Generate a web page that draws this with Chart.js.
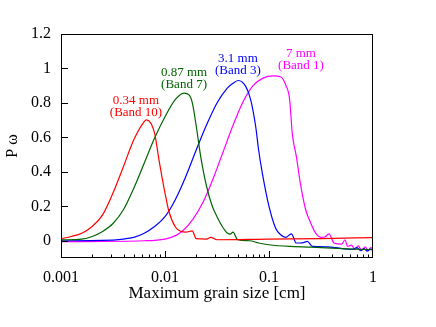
<!DOCTYPE html>
<html>
<head>
<meta charset="utf-8">
<script src="https://cdn.jsdelivr.net/npm/chart.js@4.4.1/dist/chart.umd.min.js"></script>
<style>
  html, body { margin: 0; padding: 0; background: #fff; }
  canvas { display: block; }
</style>
</head>
<body>
<canvas id="chart" width="436" height="327"></canvas>
<script>
// grain size [cm] and P omega
const redX = [0.001, 0.001259, 0.001585, 0.001995, 0.002512, 0.003162, 0.003981, 0.005012, 0.00631, 0.006607, 0.007943, 0.00875, 0.01, 0.01091, 0.01259, 0.01413, 0.01585, 0.01832, 0.01995, 0.02512, 0.02748, 0.03162, 0.1, 0.3162, 1];
const redY = [0.012, 0.025, 0.044, 0.083, 0.15, 0.277, 0.43, 0.586, 0.692, 0.702, 0.625, 0.47, 0.277, 0.17, 0.08, 0.055, 0.05, 0.058, 0.012, 0.01, 0.02, 0.006, 0.01, 0.013, 0.018];

const greenX = [0.001, 0.001585, 0.001995, 0.002512, 0.003162, 0.003981, 0.005012, 0.00631, 0.007943, 0.01, 0.01259, 0.01524, 0.01702, 0.01832, 0.02, 0.02203, 0.02512, 0.02851, 0.03162, 0.03556, 0.03972, 0.0425, 0.04508, 0.05, 0.06516, 0.07943, 0.1, 0.1581, 0.2518, 0.6324, 1];
const greenY = [0.005, 0.01, 0.025, 0.054, 0.1, 0.18, 0.305, 0.45, 0.596, 0.72, 0.82, 0.857, 0.847, 0.8, 0.663, 0.49, 0.315, 0.2, 0.14, 0.083, 0.045, 0.038, 0.05, 0.006, 0.0, -0.013, -0.023, -0.033, -0.037, -0.048, -0.052];

const blueX = [0.001, 0.002512, 0.003981, 0.005012, 0.00631, 0.007943, 0.01, 0.01259, 0.01585, 0.02, 0.02512, 0.03162, 0.03972, 0.04436, 0.0507, 0.0597, 0.06668, 0.07447, 0.07943, 0.08625, 0.1, 0.1159, 0.1294, 0.1445, 0.164, 0.1832, 0.2094, 0.2339, 0.2612, 0.3724, 0.4376, 0.6324, 0.7, 0.76, 0.82, 0.88, 0.94, 1];
const blueY = [0.0, 0.002, 0.01, 0.02, 0.044, 0.083, 0.14, 0.24, 0.373, 0.528, 0.673, 0.8, 0.886, 0.911, 0.93, 0.896, 0.818, 0.663, 0.528, 0.393, 0.2, 0.073, 0.035, 0.02, 0.04, -0.013, -0.012, -0.004, -0.033, -0.035, -0.04, -0.05, -0.04, -0.058, -0.045, -0.06, -0.048, -0.055];

const magentaX = [0.001, 0.00631, 0.01, 0.01259, 0.0149, 0.0186, 0.0232, 0.029, 0.0361, 0.0451, 0.0562, 0.0702, 0.0876, 0.1093, 0.1304, 0.1445, 0.1581, 0.1675, 0.1832, 0.2, 0.2254, 0.2518, 0.2812, 0.3162, 0.3427, 0.3776, 0.4217, 0.5, 0.5383, 0.5702, 0.62, 0.67, 0.72, 0.78, 0.84, 0.9, 0.95, 1];
const magentaY = [-0.005, 0.0, 0.01, 0.03, 0.06, 0.126, 0.223, 0.36, 0.514, 0.67, 0.805, 0.9, 0.944, 0.957, 0.95, 0.905, 0.818, 0.62, 0.49, 0.335, 0.18, 0.103, 0.044, 0.02, 0.022, 0.04, -0.013, -0.02, 0.006, -0.033, -0.025, -0.05, -0.03, -0.055, -0.035, -0.058, -0.04, -0.05];

const xTickValues = [0.001, 0.01, 0.1, 1];
const yTickValues = [0, 0.2, 0.4, 0.6, 0.8, 1, 1.2];

// band labels, anchored in data coordinates
const bandLabels = [
    { lines: ['0.34 mm', '(Band 10)'], x: 0.00526, y: 0.812, color: '#ff0000' },
    { lines: ['0.87 mm', '(Band 7)'], x: 0.01524, y: 0.975, color: '#006400' },
    { lines: ['3.1 mm', '(Band 3)'], x: 0.0503, y: 1.056, color: '#0000ff' },
    { lines: ['7 mm', '(Band 1)'], x: 0.203, y: 1.085, color: '#ff00ff' }
];

const serif = 'Liberation Serif, Times New Roman, serif';

function pairs(xs, ys) {
    return xs.map((x, i) => ({ x: x, y: ys[i] }));
}

function series(label, xs, ys, color) {
    return {
        label: label,
        data: pairs(xs, ys),
        borderColor: color,
        borderWidth: 1.2,
        pointRadius: 0,
        fill: false,
        cubicInterpolationMode: 'monotone'
    };
}

const framePlugin = {
    id: 'frame',
    afterDatasetsDraw(chart) {
        const { ctx, chartArea: a, scales } = chart;
        const xs = scales.x, ys = scales.y;
        ctx.save();
        ctx.strokeStyle = '#000';
        ctx.lineWidth = 1;
        ctx.strokeRect(a.left + 0.5, a.top + 0.5, a.right - a.left - 1, a.bottom - a.top - 1);

        ctx.beginPath();
        // log ticks on x, inward
        for (let d = 0.001; d < 0.5; d *= 10) {
            for (let k = 1; k <= 9; k++) {
                const px = Math.round(xs.getPixelForValue(k * d)) + 0.5;
                const len = k === 1 ? 7 : 3.5;
                ctx.moveTo(px, a.bottom);
                ctx.lineTo(px, a.bottom - len);
            }
        }
        yTickValues.forEach(v => {
            const py = Math.round(ys.getPixelForValue(v)) + 0.5;
            ctx.moveTo(a.left, py);
            ctx.lineTo(a.left + 7, py);
        });
        ctx.stroke();

        ctx.font = '13px ' + serif;
        ctx.textAlign = 'center';
        ctx.textBaseline = 'middle';
        bandLabels.forEach(l => {
            const px = xs.getPixelForValue(l.x);
            const py = ys.getPixelForValue(l.y);
            ctx.fillStyle = l.color;
            l.lines.forEach((t, i) => ctx.fillText(t, px, py + i * 12));
        });
        ctx.restore();
    }
};

const ctx = document.getElementById('chart').getContext('2d');
const chart = new Chart(ctx, {
    type: 'line',
    data: {
        datasets: [
            series('Band 10', redX, redY, '#ff0000'),
            series('Band 7', greenX, greenY, '#006400'),
            series('Band 3', blueX, blueY, '#0000ff'),
            series('Band 1', magentaX, magentaY, '#ff00ff')
        ]
    },
    options: {
        responsive: false,
        animation: false,
        layout: { padding: { left: 0, right: 63, top: 34, bottom: 0 } },
        plugins: {
            legend: { display: false },
            tooltip: { enabled: false }
        },
        scales: {
            x: {
                type: 'logarithmic',
                min: 0.001,
                max: 1,
                grid: { display: false, drawTicks: false },
                border: { display: false },
                afterBuildTicks: axis => { axis.ticks = xTickValues.map(v => ({ value: v, major: true })); },
                afterFit: axis => { axis.height = 69; },
                ticks: {
                    font: { family: serif, size: 16 },
                    color: '#000',
                    padding: 10,
                    maxRotation: 0,
                    autoSkip: false,
                    callback: v => String(v)
                },
                title: {
                    display: true,
                    text: 'Maximum grain size [cm]',
                    font: { family: serif, size: 17 },
                    color: '#000',
                    padding: { top: 0, bottom: 23 }
                }
            },
            y: {
                min: -0.1,
                max: 1.2,
                grid: { display: false, drawTicks: false },
                border: { display: false },
                afterBuildTicks: axis => { axis.ticks = yTickValues.map(v => ({ value: v })); },
                afterFit: axis => { axis.width = 61; },
                ticks: {
                    font: { family: serif, size: 16 },
                    color: '#000',
                    padding: 10,
                    callback: v => String(v)
                },
                title: {
                    display: true,
                    text: 'P ω',
                    font: { family: serif, size: 16 },
                    color: '#000',
                    padding: { top: 3, bottom: 0 }
                }
            }
        }
    },
    plugins: [framePlugin]
});
</script>
</body>
</html>
